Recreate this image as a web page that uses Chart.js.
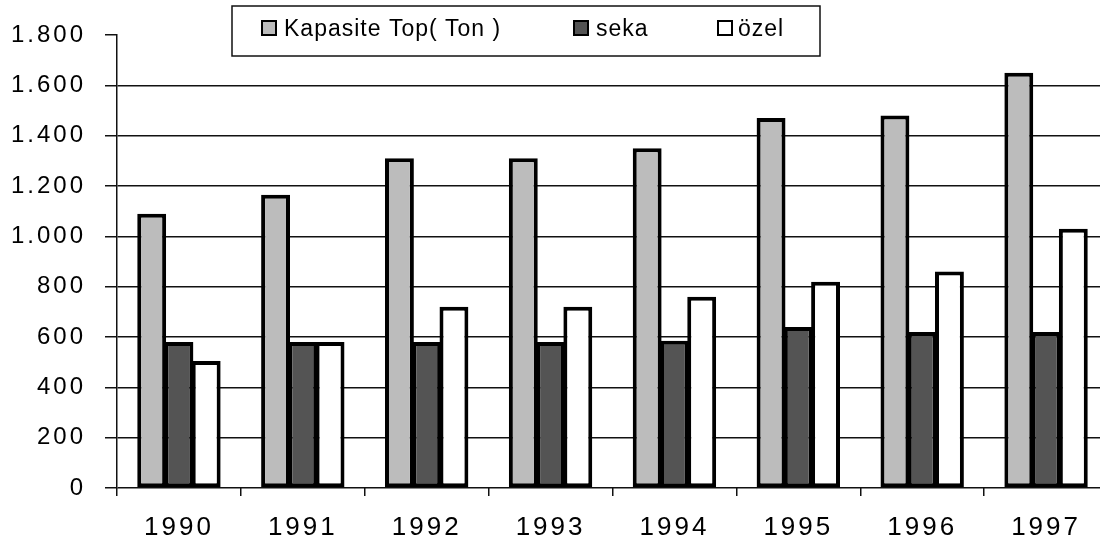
<!DOCTYPE html>
<html>
<head>
<meta charset="utf-8">
<script src="https://cdn.jsdelivr.net/npm/chart.js@4.4.0/dist/chart.umd.min.js"></script>
<style>
  html, body { margin: 0; padding: 0; background: #fff; overflow: hidden; }
  #wrap { width: 1108px; height: 548px; }
</style>
</head>
<body>
<div id="wrap"><canvas id="chart" width="1108" height="548"></canvas></div>
<script>
const years = ["1990", "1991", "1992", "1993", "1994", "1995", "1996", "1997"];
const kapasite = [1090, 1165, 1310, 1310, 1350, 1470, 1480, 1650];
const seka = [580, 580, 580, 580, 585, 640, 620, 620];
const ozel = [505, 580, 720, 720, 760, 820, 860, 1030];
const yMax = 1800;
const yStep = 200;

const FONT = "'Liberation Sans', Arial, sans-serif";

function fmtTick(v) {
  // thousands separator is a dot, like "1.800"
  if (v < 1000) return String(v);
  return Math.floor(v / 1000) + "." + String(v % 1000).padStart(3, "0");
}

// legend drawn inside a framed box, like the old spreadsheet chart
const legendSpots = [
  { mx: 262, tx: 284 },
  { mx: 574, tx: 596 },
  { mx: 718, tx: 738 },
];

const boxLegend = {
  id: "boxLegend",
  beforeDraw(chart) {
    chart.ctx.letterSpacing = "3px";
  },
  afterDraw(chart) {
    const ctx = chart.ctx;
    ctx.save();
    ctx.letterSpacing = "1px";
    ctx.fillStyle = "#fff";
    ctx.fillRect(232, 6, 588, 50);
    ctx.strokeStyle = "#111";
    ctx.lineWidth = 1.5;
    ctx.strokeRect(232, 6, 588, 50);
    ctx.font = "23px " + FONT;
    ctx.textBaseline = "alphabetic";
    chart.data.datasets.forEach((ds, i) => {
      const p = legendSpots[i];
      ctx.fillStyle = ds.backgroundColor;
      ctx.fillRect(p.mx, 21, 14, 14);
      ctx.lineWidth = 2;
      ctx.strokeStyle = "#000";
      ctx.strokeRect(p.mx, 21, 14, 14);
      ctx.fillStyle = "#000";
      ctx.fillText(ds.label, p.tx, 36);
    });
    ctx.restore();
  },
};

const ctx = document.getElementById("chart").getContext("2d");
new Chart(ctx, {
  type: "bar",
  data: {
    labels: years,
    datasets: [
      { label: "Kapasite Top( Ton )", data: kapasite, backgroundColor: "#bcbcbc" },
      { label: "seka", data: seka, backgroundColor: "#545454" },
      { label: "özel", data: ozel, backgroundColor: "#ffffff" },
    ],
  },
  options: {
    responsive: false,
    animation: false,
    layout: { padding: { top: 35, left: 0, right: 0, bottom: 0 } },
    datasets: {
      bar: {
        borderColor: "#000",
        borderWidth: 4,
        borderSkipped: false,
        categoryPercentage: 0.66,
        barPercentage: 1.06,
      },
    },
    plugins: {
      legend: { display: false },
      tooltip: { enabled: false },
    },
    scales: {
      x: {
        afterFit(scale) { scale.height = 60; },
        grid: {
          offset: true,
          drawOnChartArea: false,
          tickLength: 8,
          color: "#111",
          lineWidth: 1.5,
        },
        border: { display: false },
        ticks: {
          color: "#000",
          font: { family: FONT, size: 26 },
          padding: 16,
          maxRotation: 0,
        },
      },
      y: {
        min: 0,
        max: yMax,
        afterFit(scale) { scale.width = 117; },
        grid: {
          color: c => (c.tick && c.tick.value === yMax ? "rgba(0,0,0,0)" : "#111"),
          tickColor: "#111",
          tickLength: 12,
          lineWidth: 1.5,
        },
        border: { display: true, color: "#111", width: 1.5 },
        ticks: {
          stepSize: yStep,
          color: "#000",
          font: { family: FONT, size: 24 },
          padding: 19,
          callback: v => fmtTick(v),
        },
      },
    },
  },
  plugins: [boxLegend],
});
</script>
</body>
</html>
